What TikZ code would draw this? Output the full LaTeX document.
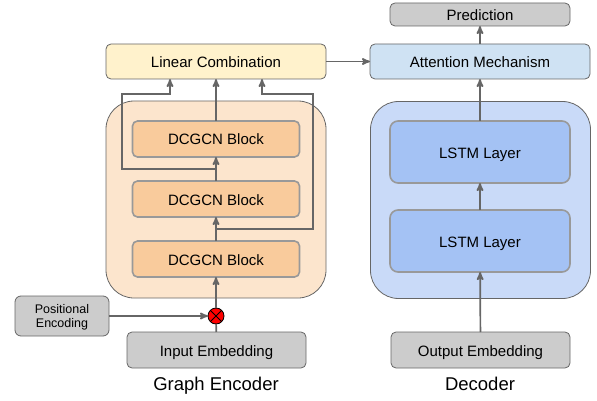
\documentclass[tikz,border=0pt]{standalone}
\usepackage{fontspec}
\setmainfont{Liberation Sans}
\usepackage{tikz}
\usetikzlibrary{arrows,positioning,calc}

\definecolor{linec}{HTML}{666666}
\definecolor{edgec}{HTML}{999999}
\definecolor{yellow1}{HTML}{FFF2CC}
\definecolor{orange0}{HTML}{FCE5CD}
\definecolor{orange1}{HTML}{F9CB9C}
\definecolor{blue0}{HTML}{CFE2F3}
\definecolor{blue1}{HTML}{C9DAF8}
\definecolor{blue2}{HTML}{A4C2F4}
\definecolor{gray1}{HTML}{CCCCCC}

\begin{document}
\begin{tikzpicture}[
  x=1pt, y=-1pt,
  box/.style={rectangle,rounded corners=5pt,draw=linec,line width=0.8pt,
    outer sep=0pt, inner sep=0pt, font=\fontsize{15}{18}\selectfont},
  oneline/.style={box,text height=12pt,text depth=0pt},
  panel/.style={box,rounded corners=28pt,minimum width=220pt,minimum height=197pt},
  wide/.style={oneline,minimum width=220pt,minimum height=35pt},
  block/.style={oneline,draw=edgec,line width=1.6pt,fill=orange1,
    minimum width=167pt,minimum height=36pt},
  lstm/.style={oneline,draw=edgec,line width=1.6pt,rounded corners=8pt,fill=blue2,
    minimum width=180pt,minimum height=62pt},
  gray/.style={oneline,fill=gray1,minimum width=179pt,minimum height=36pt},
  caption/.style={text height=13pt,text depth=0pt,font=\fontsize{18.5}{22}\selectfont},
  to/.style={->, >=stealth', line width=1.7pt, draw=linec},
  every node/.style={align=center}]

  \useasboundingbox (0,0) rectangle (597,401);

  \node[panel,fill=orange0] (enc) at (216,199.5) {};
  \node[panel,fill=blue1] (dec) at (480.5,200) {};

  \node[wide,fill=yellow1] (lin) at (216,61.5) {Linear Combination};
  \node[wide,fill=blue0,right=44pt of lin] (att) {Attention Mechanism};
  \node[gray,minimum width=180pt,minimum height=23pt,above=18pt of att] (pred) {Prediction};

  \node[block] (blka) at (216,139) {DCGCN Block};
  \node[block,below=24pt of blka] (blkb) {DCGCN Block};
  \node[block,below=24pt of blkb] (blkc) {DCGCN Block};

  \node[lstm] (lstma) at (480,152) {LSTM Layer};
  \node[lstm,below=27pt of lstma] (lstmb) {LSTM Layer};

  \node[gray] (inp) at (216.5,350) {Input Embedding};
  \node[gray] (out) at (480.5,350) {Output Embedding};
  \node[box,fill=gray1,rounded corners=6pt,minimum width=94pt,minimum height=40pt,text depth=0pt,
    font=\fontsize{12.5}{14.7}\selectfont] (pos) at (62,316) {Positional\\Encoding};

  \node[circle,draw=black,line width=0.8pt,fill=red,minimum size=16pt,inner sep=0pt,outer sep=0pt,
    path picture={
      \draw[black,line width=0.8pt] (path picture bounding box.south west) -- (path picture bounding box.north east);
      \draw[black,line width=0.8pt] (path picture bounding box.north west) -- (path picture bounding box.south east);
    }] (mix) at (216,316) {};

  \node[caption] (enclab) at (216,383.5) {Graph Encoder};
  \node[caption] (declab) at (480,383.5) {Decoder};

  % skip connections
  \coordinate (skipa) at ($(blka.south)!0.5!(blkb.north)$);
  \coordinate (skipb) at ($(blkb.south)!0.5!(blkc.north)$);
  \coordinate (linl) at (170,79);
  \coordinate (linr) at (262,79);

  \draw[to] (skipa) -| (122,94) -| (linl);
  \draw[to] (skipb) -| (313,94) -| (linr);

  \draw[to] (blka) -- (lin);
  \draw[to] (blkb) -- (blka);
  \draw[to] (blkc) -- (blkb);
  \draw[to] (mix) -- (blkc);
  \draw[line width=1.7pt,draw=linec] (inp) -- (mix);
  \draw[to] (pos) -- (mix);
  \draw[to] (lin) -- (att);
  \draw[to] (att) -- (pred);
  \draw[to] (lstma) -- (att);
  \draw[to] (lstmb) -- (lstma);
  \draw[to] (out) -- (lstmb);
\end{tikzpicture}
\end{document}
